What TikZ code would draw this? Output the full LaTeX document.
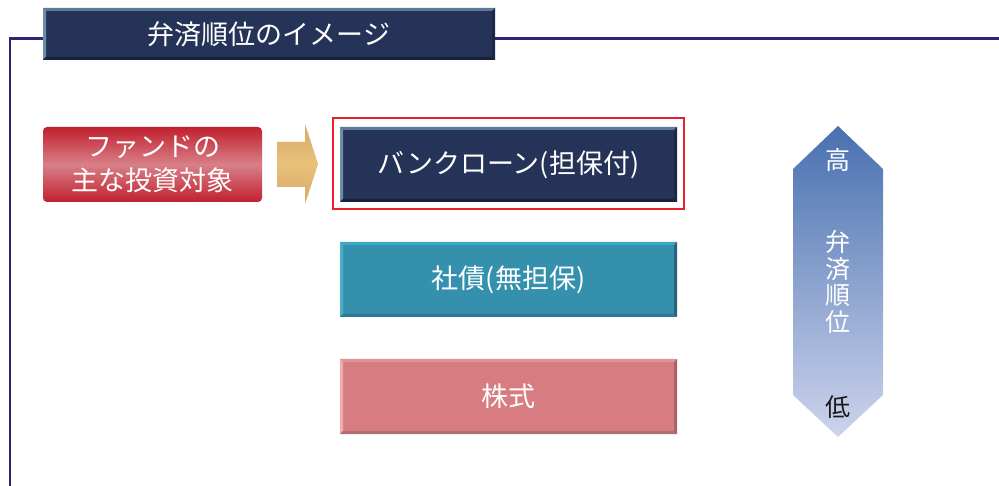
\documentclass[tikz,border=0pt]{standalone}
\usepackage{fontspec}
\setmainfont{Noto Sans CJK JP}
\usetikzlibrary{calc}
\definecolor{frameC}{HTML}{2B2870}
\definecolor{navyF}{HTML}{243357}
\definecolor{navyT}{HTML}{5E7C96}
\definecolor{navyL}{HTML}{6F8CA5}
\definecolor{navyB}{HTML}{18223C}
\definecolor{navyR}{HTML}{1C2846}
\definecolor{tealF}{HTML}{3590AE}
\definecolor{tealT}{HTML}{3BA8C2}
\definecolor{tealL}{HTML}{4AAFC4}
\definecolor{tealB}{HTML}{2D7A92}
\definecolor{tealR}{HTML}{2A6478}
\definecolor{pinkF}{HTML}{D77C80}
\definecolor{pinkT}{HTML}{E0939A}
\definecolor{pinkL}{HTML}{F2AAAA}
\definecolor{pinkB}{HTML}{B06E72}
\definecolor{pinkR}{HTML}{A86468}
\definecolor{redA}{HTML}{C0202E}
\definecolor{redM}{HTML}{D88088}
\definecolor{goldA}{HTML}{D4A868}
\definecolor{goldM}{HTML}{E9C27A}
\definecolor{hexT}{HTML}{4870B0}
\definecolor{hexB}{HTML}{CDD4EC}
\definecolor{outlineRed}{HTML}{E8202A}
\newcommand\bevelbox[2]{%
  \fill[#2T] (#1.north west) -- (#1.north east) -- ($(#1.north east)+(-3,3)$) -- ($(#1.north west)+(3,3)$) -- cycle;
  \fill[#2L] (#1.north west) -- ($(#1.north west)+(3,3)$) -- ($(#1.south west)+(3,-3)$) -- (#1.south west) -- cycle;
  \fill[#2B] (#1.south west) -- ($(#1.south west)+(3,-3)$) -- ($(#1.south east)+(-3,-3)$) -- (#1.south east) -- cycle;
  \fill[#2R] (#1.north east) -- (#1.south east) -- ($(#1.south east)+(-3,-3)$) -- ($(#1.north east)+(-3,3)$) -- cycle;
}
\tikzset{
  boxtext/.style={text=white, font=\fontsize{27}{32}\selectfont, inner sep=0pt, outer sep=0pt},
  hextext/.style={text=white, font=\fontsize{25}{26.7}\selectfont, inner sep=0pt, outer sep=0pt},
  bevbox/.style={boxtext, minimum width=337pt, minimum height=75pt},
  frameline/.style={draw=frameC, line width=2.4pt},
}
\begin{document}
\begin{tikzpicture}[x=1pt,y=-1pt]
\useasboundingbox (0,0) rectangle (999,486);
% frame
\coordinate (fb) at (10,486);
\coordinate (fc) at (10,38.5);
\coordinate (fr) at (999,38.5);
\draw[frameline] (fb) -- (fc) -- (fr);
% title
\node[boxtext, fill=navyF, minimum width=452pt, minimum height=52pt] (title) at (269,34) {弁済順位のイメージ};
\bevelbox{title}{navy}
% fund box
\node[boxtext, rounded corners=4pt, top color=redA, bottom color=redA, middle color=redM, minimum width=219pt, minimum height=75pt, align=center, font=\fontsize{27}{34}\selectfont] (fund) at (152.5,164.5) {ファンドの\\主な投資対象};
% arrow
\shade[top color=goldA, bottom color=goldA, middle color=goldM] (277,142) -- (305,142) -- (305,124) -- (318,164) -- (305,204) -- (305,187) -- (277,187) -- cycle;
% highlight outline
\node[draw=outlineRed, line width=2pt, minimum width=351pt, minimum height=91pt, inner sep=0pt] (hl) at (508.5,163.5) {};
% boxes
\node[bevbox, fill=navyF] (bank) at (508.5,164.5) {バンクローン(担保付)};
\bevelbox{bank}{navy}
\node[bevbox, fill=tealF] (bond) at (508.5,279.5) {社債(無担保)};
\bevelbox{bond}{teal}
\node[bevbox, fill=pinkF] (stock) at (508.5,396.5) {株式};
\bevelbox{stock}{pink}
% priority hexagon
\shade[top color=hexT, bottom color=hexB] (838,126) -- (883,169) -- (883,395) -- (838,437) -- (793,395) -- (793,169) -- cycle;
\node[hextext] (hi) at (838,160) {高};
\node[hextext, align=center] (prio) at (838,282) {弁\\済\\順\\位};
\node[hextext, text=black!90] (lo) at (838,407) {低};
\end{tikzpicture}
\end{document}
